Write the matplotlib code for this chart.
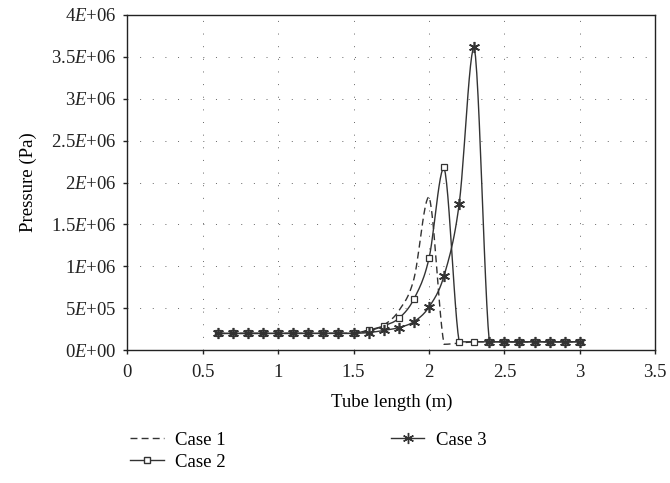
import numpy as np
import matplotlib
matplotlib.use("Agg")
import matplotlib.pyplot as plt
from matplotlib.lines import Line2D

plt.rcParams["font.family"] = ["Liberation Serif", "DejaVu Serif"]
plt.rcParams["mathtext.fontset"] = "custom"
plt.rcParams["mathtext.rm"] = "Liberation Serif"
plt.rcParams["mathtext.it"] = "Liberation Serif:italic"

# tube length positions (m)
length = [0.6, 0.7, 0.8, 0.9, 1.0, 1.1, 1.2, 1.3, 1.4, 1.5, 1.6, 1.7, 1.8,
          1.9, 2.0, 2.1, 2.2, 2.3, 2.4, 2.5, 2.6, 2.7, 2.8, 2.9, 3.0]

# pressure (Pa)
case1 = [2.0e5, 2.0e5, 2.0e5, 2.0e5, 2.0e5, 2.0e5, 2.0e5, 2.0e5, 2.0e5, 2.0e5,
         2.3e5, 3.0e5, 4.7e5, 8.5e5, 1.83e6, 7.0e4, 8.5e4, 1.0e5, 1.0e5, 1.0e5,
         1.0e5, 1.0e5, 1.0e5, 1.0e5, 1.0e5]
case2 = [2.0e5, 2.0e5, 2.0e5, 2.0e5, 2.0e5, 2.0e5, 2.0e5, 2.0e5, 2.0e5, 2.0e5,
         2.4e5, 2.9e5, 3.8e5, 6.1e5, 1.095e6, 2.18e6, 1.0e5, 1.0e5, 1.0e5, 1.0e5,
         1.0e5, 1.0e5, 1.0e5, 1.0e5, 1.0e5]
case3 = [2.0e5, 2.0e5, 2.0e5, 2.0e5, 2.0e5, 2.0e5, 2.0e5, 2.0e5, 2.0e5, 2.0e5,
         2.1e5, 2.35e5, 2.7e5, 3.4e5, 5.15e5, 8.9e5, 1.745e6, 3.62e6, 1.0e5, 1.0e5,
         1.0e5, 1.0e5, 1.0e5, 1.0e5, 1.0e5]

x_ticks = [0, 0.5, 1, 1.5, 2, 2.5, 3, 3.5]
x_tick_labels = ["0", "0.5", "1", "1.5", "2", "2.5", "3", "3.5"]
y_ticks = [0, 5e5, 1e6, 1.5e6, 2e6, 2.5e6, 3e6, 3.5e6, 4e6]
y_tick_labels = ["0$E$+00", "5$E$+05", "1$E$+06", "1.5$E$+06", "2$E$+06",
                 "2.5$E$+06", "3$E$+06", "3.5$E$+06", "4$E$+06"]

LC = "#333333"
FS = 13.5


def smooth(x, y, n=12):
    # spreadsheet style smoothed line (bezier) for drawing only,
    # control points clamped so a segment never overshoots its ends
    x = np.asarray(x, float)
    y = np.asarray(y, float)
    xs, ys = [x[0]], [y[0]]
    for i in range(len(x) - 1):
        i0, i3 = max(i - 1, 0), min(i + 2, len(x) - 1)
        lo, hi = min(y[i], y[i + 1]), max(y[i], y[i + 1])
        c1x = x[i] + (x[i + 1] - x[i0]) / 6
        c1y = np.clip(y[i] + (y[i + 1] - y[i0]) / 6, lo, hi)
        c2x = x[i + 1] - (x[i3] - x[i]) / 6
        c2y = np.clip(y[i + 1] - (y[i3] - y[i]) / 6, lo, hi)
        t = np.linspace(0, 1, n + 1)[1:]
        a, b, c, d = (1 - t) ** 3, 3 * (1 - t) ** 2 * t, 3 * (1 - t) * t ** 2, t ** 3
        xs.extend(a * x[i] + b * c1x + c * c2x + d * x[i + 1])
        ys.extend(a * y[i] + b * c1y + c * c2y + d * y[i + 1])
    return xs, ys


fig = plt.figure(figsize=(6.7, 4.83), dpi=100)
ax = fig.add_axes([0.19, 0.275, 0.788, 0.694])

ax.plot(*smooth(length, case1), color=LC, lw=1.0, ls=(0, (5, 3)))
ax.plot(*smooth(length, case2), color=LC, lw=1.0)
ax.plot(length, case2, ls="none", marker="s", ms=4.5, mfc="white", mec=LC, mew=0.9)
ax.plot(*smooth(length, case3), color=LC, lw=1.0)
ax.plot(length, case3, ls="none", marker=(6, 2, 0), ms=8, mec=LC, mew=1.2)

ax.set_xlim(0, 3.5)
ax.set_ylim(0, 4e6)
ax.set_xticks(x_ticks)
ax.set_xticklabels(x_tick_labels)
ax.set_yticks(y_ticks)
ax.set_yticklabels(y_tick_labels)
ax.tick_params(direction="out", length=3, width=1, labelsize=FS, colors="#222222")
ax.tick_params(axis="x", pad=7)
ax.tick_params(axis="y", pad=5)
ax.grid(True, color="#666666", lw=0.7, ls=(0, (1, 12)))
for s in ax.spines.values():
    s.set_color("#222222")
    s.set_linewidth(1.0)

ax.set_xlabel("Tube length (m)", fontsize=FS, labelpad=9)
ax.set_ylabel("Pressure (Pa)", fontsize=FS, labelpad=10)

handles = [
    Line2D([], [], color=LC, lw=1.0, ls=(0, (5, 3))),
    Line2D([], [], color=LC, lw=1.0, marker="s", ms=4, mfc="white", mec=LC),
    Line2D([], [], color=LC, lw=1.0, marker=(6, 2, 0), ms=8, mec=LC),
]
fig.legend(handles, ["Case 1", "Case 2", "Case 3"], ncol=2, frameon=False,
           loc="upper left", bbox_to_anchor=(0.183, 0.122), fontsize=FS,
           handlelength=1.8, columnspacing=8.8, labelspacing=0.25,
           borderaxespad=0, handletextpad=0.6)

fig.savefig("out.png", dpi=100)
